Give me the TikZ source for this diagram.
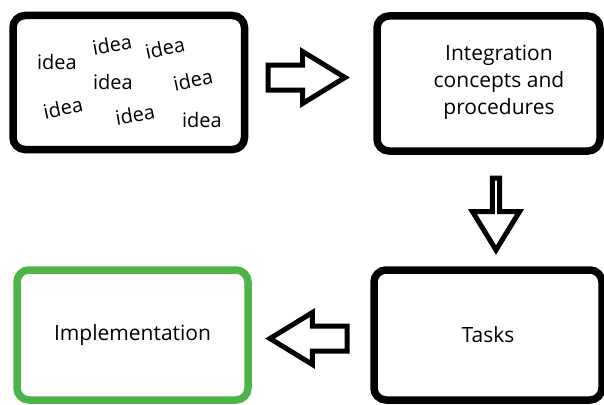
\documentclass[tikz,border=0pt]{standalone}
\usepackage{fontspec}
\setmainfont{Open Sans}
\usetikzlibrary{shapes.arrows}

\definecolor{implgreen}{RGB}{76,180,72}

\tikzset{
  stage/.style={draw, line width=7.5pt, rounded corners=12pt, inner sep=0pt,
                align=center, font=\fontsize{21}{27}\selectfont},
  blockarrow/.style={single arrow, draw, line width=5pt, fill=white,
                inner xsep=0pt, inner ysep=10pt, anchor=tail,
                minimum width=47pt, minimum height=77pt,
                single arrow head extend=13.5pt, single arrow tip angle=63},
  word/.style={inner sep=0pt, font=\fontsize{20}{24}\selectfont}
}

\begin{document}
\begin{tikzpicture}[x=1pt,y=-1pt]
    \useasboundingbox (0,0) rectangle (604,404);

    \node[stage, minimum width=231.5pt, minimum height=134pt] (Ideas) at(128.75,82.5) {};
    \foreach \px/\py/\rot [count=\i] in {57/62/0, 112/45/10, 165/48/12, 113/82/0,
                                         193/80/12, 63/108/12, 135/115/10, 202/120/0}
             {
               \node[word, rotate=\rot] (Idea\i) at(\px,\py) {idea};
             }

    \node[stage, minimum width=223pt, minimum height=135pt,
          label={[align=center, font=\fontsize{21}{27}\selectfont, xshift=10.5pt, yshift=1pt]center:
                 Integration\\concepts and\\procedures}] (Concepts) at(488.5,83.5) {};
    \node[stage, minimum width=228pt, minimum height=130pt] (Tasks) at(488,335) {Tasks};
    \node[stage, draw=implgreen, minimum width=231pt, minimum height=130pt] (Impl) at(132.5,335)
         {Implementation};

    % block arrows between the stages
    \node[blockarrow] (ToConcepts) at(265.5,77.5) {};
    \node[blockarrow, shape border rotate=270, minimum height=72pt] (ToTasks) at(496,175.5) {};
    \node[blockarrow, shape border rotate=180] (ToImpl) at(349.5,338.5) {};
\end{tikzpicture}
\end{document}
